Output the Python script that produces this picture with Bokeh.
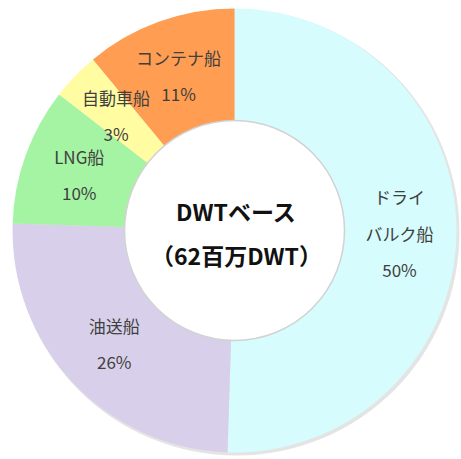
import math
from bokeh.plotting import figure
from bokeh.models import ColumnDataSource, Range1d
from bokeh.core.properties import value
from bokeh.embed import file_html
from bokeh.resources import INLINE

# ---- data ----
categories = ["ドライバルク船", "油送船", "LNG船", "自動車船", "コンテナ船"]
label_lines = [["ドライ", "バルク船"], ["油送船"], ["LNG船"], ["自動車船"], ["コンテナ船"]]
shares = [50.5, 25.0, 10.0, 3.5, 11.0]          # slice sizes as drawn
pct_labels = ["50%", "26%", "10%", "3%", "11%"]  # printed labels
colors = ["#D6FCFD", "#D8D0EA", "#A4F4A4", "#FFFCA2", "#FF9D52"]
center_title = ["DWTベース", "（62百万DWT）"]

FONT = "Noto Sans CJK JP"
W, H = 461, 459
CX_PIX, CY_PIX = 234, 230          # donut centre (px from left / top)
R_OUT, R_IN = 222, 110
R_LAB = 165
LINE_GAP = 36.5

p = figure(width=W, height=H, output_backend="svg", toolbar_location=None,
           x_range=Range1d(-CX_PIX, W - CX_PIX), y_range=Range1d(-(H - CY_PIX), CY_PIX),
           min_border=0)
p.axis.visible = False
p.grid.visible = False
p.outline_line_color = None
p.background_fill_color = "white"
p.border_fill_color = "white"

total = sum(shares)
starts, ends, mids = [], [], []
cum = 0.0
for s in shares:
    a0 = cum / total * 2 * math.pi
    cum += s
    a1 = cum / total * 2 * math.pi
    starts.append(math.pi / 2 - a0)
    ends.append(math.pi / 2 - a1)
    mids.append((a0 + a1) / 2)

src = ColumnDataSource(dict(start=starts, end=ends, color=colors, cat=categories))
# soft shadow ring
p.circle(x=2, y=-2, radius=R_OUT + 1, fill_color="#e4e4e4", line_color=None)
p.annular_wedge(x=0, y=0, inner_radius=R_IN, outer_radius=R_OUT,
                start_angle="start", end_angle="end", direction="clock",
                fill_color="color", line_color=None, source=src)
p.circle(x=0, y=0, radius=R_IN, fill_color="white", line_color="#d2d2d2", line_width=1.5)
p.circle(x=0, y=0, radius=R_IN - 3, fill_color="white", line_color=None)

# slice labels
xs, ys, txt = [], [], []
for lines, pct, m in zip(label_lines, pct_labels, mids):
    cx = R_LAB * math.sin(m)
    cy = R_LAB * math.cos(m)
    allines = lines + [pct]
    n = len(allines)
    for i, t in enumerate(allines):
        xs.append(cx)
        ys.append(cy - (i - (n - 1) / 2) * LINE_GAP)
        txt.append(t)
p.text(x=xs, y=ys, text=txt, text_font=value(FONT), text_font_size="17px",
       text_color="#404040", text_align="center", text_baseline="middle")

# centre title
p.text(x=[2, 2], y=[20, -24], text=center_title, text_font=value(FONT),
       text_font_size="23px", text_font_style="bold", text_color="#111111",
       text_align="center", text_baseline="middle")

open("out.html", "w").write(file_html(p, INLINE))
